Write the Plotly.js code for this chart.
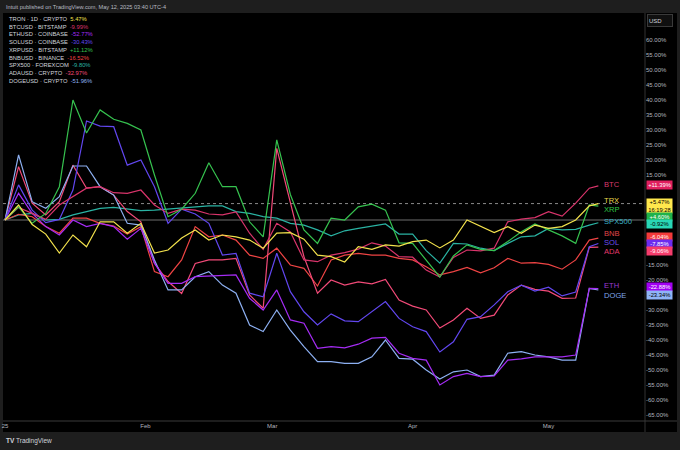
<!DOCTYPE html>
<html><head><meta charset="utf-8">
<script src="https://cdn.plot.ly/plotly-3.0.1.min.js"></script>
<style>html,body{margin:0;padding:0;background:#1e1e1e;overflow:hidden}#chart{width:680px;height:450px}</style>
</head><body><div id="chart"></div>
<script>
// ---------- DATA ----------
const dates = ['2025-01-01','2025-01-04','2025-01-07','2025-01-10','2025-01-13','2025-01-16','2025-01-19','2025-01-22','2025-01-25','2025-01-28','2025-01-31','2025-02-03','2025-02-06','2025-02-09','2025-02-12','2025-02-15','2025-02-18','2025-02-21','2025-02-24','2025-02-27','2025-03-02','2025-03-05','2025-03-08','2025-03-11','2025-03-14','2025-03-17','2025-03-20','2025-03-23','2025-03-26','2025-03-29','2025-04-01','2025-04-04','2025-04-07','2025-04-10','2025-04-13','2025-04-16','2025-04-19','2025-04-22','2025-04-25','2025-04-28','2025-05-01','2025-05-04','2025-05-07','2025-05-10','2025-05-12'];

const trx  = [0,5,-1.5,-4.7,-11,-5,-8.9,-0.6,-0.6,-4.4,-1.1,-11,-10,-6,-3.3,-6.7,-5,-5.6,-6.7,-9.4,-4.4,-4.2,-6.4,-11.7,-12.2,-14,-8.9,-9.8,-8.3,-8.7,-7.2,-6.7,-9.3,-6.7,0,-2,-4.2,-2.2,-4.4,-1.7,-2.8,-2.2,0,4.7,5.47];
const btc  = [0,4.2,2.2,0.2,5,7.8,10.6,11.1,9.1,8.9,10,5,2.2,3.6,3.3,2,1.7,2.7,-4.4,-9.8,-1.1,-4,-13.3,-13.9,-11.7,-10.9,-9.7,-7.6,-8.7,-12.2,-12.4,-16.7,-19,-12.5,-10,-10.3,-9.4,-0.6,0.3,0.8,2.8,1.3,5.6,10.6,11.39];
const eth  = [0,8.9,2.2,-2.2,-5,0,-2.2,-1.1,-2.2,-6.4,-2.8,-14.4,-21.1,-21.1,-18.9,-18.7,-18.3,-18.3,-26.1,-30,-23.3,-33.3,-34.4,-42.8,-42.2,-42.6,-41.4,-39.4,-39.1,-44.4,-46.1,-46.7,-55,-52.2,-51.1,-52.2,-52,-46.7,-46.3,-45.6,-45.6,-45.6,-45,-22.8,-22.88];
const sol  = [0,11.7,3.3,-0.9,0.2,10,33,31.3,31.1,18.3,20,11.1,-1.1,3.6,2,-1.1,-11.7,-11.1,-24.4,-25.6,-11.1,-23.9,-30.6,-35,-31.3,-33.6,-33.9,-30.6,-27.2,-32.8,-35.6,-37.2,-44,-40.6,-33.1,-32.2,-28.3,-23.9,-21.7,-23.7,-22.4,-25.3,-24,-8.9,-7.85];
const xrp  = [0,4.4,-1.1,2.2,11.1,40,29,36.7,33.6,32.2,30,15,1.1,3.6,8.9,19.1,11.1,11.1,-0.6,-5.6,26.7,8.5,-3.3,-7.8,0.6,0,4.4,5.3,3.3,-7.6,-7.8,-13.3,-19,-12,-8.3,-9.8,-10.2,-7.2,-3.9,-1.3,-3.3,-5.3,-7.8,5,4.6];
const bnb  = [0,1.9,1.1,-2.2,-4.4,0.6,0.6,-1.1,-2,-4.7,-2.2,-17.2,-18.9,-13.3,-2.2,-5.6,-5,-6.7,-11.7,-12.8,-9.4,-15,-16.1,-22,-13.3,-11.7,-11.1,-11.7,-11.7,-12.8,-13.3,-15.6,-18.3,-17.2,-15.8,-17.6,-15.9,-12.8,-14.4,-14.2,-14.8,-16.4,-13.3,-6.7,-6.04];
const spx  = [0,1.7,2.2,0,0.2,1.7,2.8,3.9,4.2,3.6,3.1,3.3,3.6,3.9,4.2,4.7,4.7,2.8,2.2,1.1,0.6,-1.1,-1.7,-3.3,-5.3,-3.6,-2.8,-2,-1.3,-4.7,-4.7,-10.2,-14.4,-7.8,-8,-9.4,-10.2,-7.8,-5.6,-5.3,-2.8,-3.3,-3.1,-1.7,-0.92];
const ada  = [0,17.8,5.6,1.7,6.1,18.3,10.6,11.1,8.3,2.8,-0.6,-14.4,-20.5,-24.5,-14.5,-13.3,-13.3,-12.8,-25,-29.4,23.9,6.1,-12.2,-24.4,-20,-21.7,-20.6,-21.3,-19.8,-26.7,-28.7,-30,-36,-33.3,-29.4,-32.8,-31.7,-25,-21.7,-23.1,-23.7,-26.1,-26,-9.1,-9.06];
const doge = [0,21.7,6.1,3.9,7.8,18,18,11.1,8.3,-1.1,-1.7,-13.3,-23.3,-23.3,-18.9,-17.2,-21.7,-24.4,-35,-37.2,-30,-36.7,-42.2,-47.2,-47.2,-47.8,-47.8,-45.6,-40,-46.1,-46.4,-50,-53,-50.6,-50,-52.2,-51.7,-44.4,-43.9,-45,-45.6,-46.7,-46.7,-22.8,-23.34];

const shortNames = ['SPX500','BNB','ADA','DOGE','ETH','SOL','BTC','XRP','TRX'];
const legendNames = ['TRON · 1D · CRYPTO','BTCUSD · BITSTAMP','ETHUSD · COINBASE','SOLUSD · COINBASE','XRPUSD · BITSTAMP','BNBUSD · BINANCE','SPX500 · FOREXCOM','ADAUSD · CRYPTO','DOGEUSD · CRYPTO'];
const legendValues = ['5.47%','-9.99%','-52.77%','-30.43%','+11.12%','-16.52%','-9.80%','-32.97%','-51.96%'];
const xTickDates = ['2025-01-01','2025-02-01','2025-03-01','2025-04-01','2025-05-01'];
const xTickLabels = ['25','Feb','Mar','Apr','May'];
// visible price-scale labels (the others are hidden under the value tags)
const yTicks = [60,55,50,45,40,35,30,25,20,15,-15,-20,-30,-35,-40,-45,-50,-55,-60,-65];
const headerText = 'Intuit published on TradingView.com, May 12, 2025 03:40 UTC-4';
const clockText = '16:19:28';

// ---------- STYLE ----------
const seriesData = {SPX500:spx,BNB:bnb,ADA:ada,DOGE:doge,ETH:eth,SOL:sol,BTC:btc,XRP:xrp,TRX:trx};
const lineColor = {TRX:'#f2e14c',BTC:'#d9346b',ETH:'#a52cf5',SOL:'#6247f0',XRP:'#36c24f',BNB:'#ef4444',SPX500:'#2ab3a3',ADA:'#f24a78',DOGE:'#8db0f2'};
const nameColor = {TRX:'#e8d84a',BTC:'#d93a6e',ETH:'#9a3ad0',SOL:'#6a4ef0',XRP:'#2ec845',BNB:'#e0464a',SPX500:'#3cb4c8',ADA:'#e0386a',DOGE:'#7fa6ea'};
const pillBg = {TRX:'#ffe84d',BTC:'#e0205f',ETH:'#a100f2',SOL:'#6c2bf0',XRP:'#20b24a',BNB:'#f43a3a',SPX500:'#29d6b6',ADA:'#f53c6c',DOGE:'#8fb4f7'};
const pillFg = {TRX:'#000',BTC:'#fff',ETH:'#fff',SOL:'#fff',XRP:'#fff',BNB:'#fff',SPX500:'#000',ADA:'#fff',DOGE:'#000'};
const legendKeys = ['TRX','BTC','ETH','SOL','XRP','BNB','SPX500','ADA','DOGE'];
const tagOrder = ['BTC','TRX','XRP','SPX500','BNB','SOL','ADA','ETH','DOGE'];
const namePy = {BTC:185,TRX:200,XRP:210,SPX500:221,BNB:233,SOL:242,ADA:252,ETH:285,DOGE:295};
const pillPy = {BTC:185,TRX:205.5,XRP:216.5,SPX500:223.8,BNB:236.5,SOL:244,ADA:251.5,ETH:287,DOGE:295};

const L=3,R=645,T=13,B=421;
const px=(x)=>(x-L)/(R-L);
const py=(y)=>(B-y)/(B-T);
const FONT='Liberation Sans, Arial, sans-serif';

const traces = shortNames.map(k=>({
  x:dates, y:seriesData[k], type:'scatter', mode:'lines', name:k,
  line:{color:lineColor[k], width:1.2}, hoverinfo:'skip'
}));

const fmt=(v)=>(v>0?'+':'')+v.toFixed(2)+'%';

const annotations = [];
annotations.push({xref:'paper',yref:'paper',x:px(4),y:py(6.5),xanchor:'left',yanchor:'middle',text:headerText,showarrow:false,font:{family:FONT,size:5.6,color:'#b8bbc2'}});
legendKeys.forEach((k,i)=>{
  annotations.push({xref:'paper',yref:'paper',x:px(7),y:py(19+7.72*i),xanchor:'left',yanchor:'middle',showarrow:false,
    text:legendNames[i]+'  <span style="color:'+lineColor[k]+'">'+legendValues[i]+'</span>',
    font:{family:FONT,size:5.8,color:'#d1d4dc'}});
});
tagOrder.forEach(k=>{
  const arr=seriesData[k]; const last=arr[arr.length-1];
  annotations.push({xref:'paper',yref:'paper',x:px(602),y:py(namePy[k]),xanchor:'left',yanchor:'middle',showarrow:false,
    text:k,font:{family:FONT,size:7.6,color:nameColor[k]}});
  const two = (k==='TRX');
  annotations.push({xref:'paper',yref:'paper',x:px(646),y:py(pillPy[k]),xanchor:'left',yanchor:'middle',showarrow:false,
    text: two ? fmt(last)+'<br>'+clockText : fmt(last),
    width:24,height:two?12.5:6.5,borderpad:0.5,bgcolor:pillBg[k],align:'center',
    font:{family:FONT,size:5.8,color:pillFg[k]}});
});
annotations.push({xref:'paper',yref:'paper',x:px(647),y:py(20),xanchor:'left',yanchor:'middle',showarrow:false,
  text:'USD',width:22,height:9,align:'left',bgcolor:'#101010',bordercolor:'#3a3a3a',borderwidth:1,borderpad:1,
  font:{family:FONT,size:6,color:'#d1d4dc'}});
annotations.push({xref:'paper',yref:'paper',x:px(4),y:py(441),xanchor:'left',yanchor:'middle',showarrow:false,
  text:'<b>TV</b> TradingView',font:{family:FONT,size:6.5,color:'#d1d4dc'}});

const shapes = [
  {type:'rect',xref:'paper',yref:'paper',x0:px(3),x1:px(677),y0:py(432),y1:py(13),fillcolor:'#000',line:{width:0},layer:'below'},
  {type:'line',xref:'paper',yref:'y',x0:0,x1:1,y0:0,y1:0,line:{color:'#6e6e6e',width:1},layer:'below'},
  {type:'line',xref:'paper',yref:'y',x0:0,x1:1,y0:trx[trx.length-1],y1:trx[trx.length-1],line:{color:'#8a8a8a',width:1,dash:'dot'},layer:'below'},
  {type:'line',xref:'paper',yref:'paper',x0:px(645),x1:px(645),y0:py(432),y1:py(13),line:{color:'#333',width:1}},
  {type:'line',xref:'paper',yref:'paper',x0:px(3),x1:px(677),y0:py(421),y1:py(421),line:{color:'#3a3a3a',width:1}}
];

const layout = {
  width:680,height:450,
  margin:{l:L,r:680-R,t:T,b:450-B,pad:0},
  paper_bgcolor:'#1e1e1e',plot_bgcolor:'#000',
  showlegend:false,
  font:{family:FONT,size:6,color:'#b2b5be'},
  xaxis:{type:'date',range:['2024-12-31 13:26','2025-05-22 07:12'],tickvals:xTickDates,ticktext:xTickLabels,
    showgrid:false,zeroline:false,showline:false,ticks:'',tickfont:{family:FONT,size:6,color:'#b2b5be'},fixedrange:true},
  yaxis:{side:'right',range:[-67,69],tickvals:yTicks,ticktext:yTicks.map(v=>v.toFixed(2)+'%'),
    showgrid:false,zeroline:false,showline:false,ticks:'',tickfont:{family:FONT,size:6,color:'#b2b5be'},fixedrange:true},
  shapes:shapes,annotations:annotations
};
Plotly.newPlot('chart',traces,layout,{staticPlot:true,displayModeBar:false});
</script></body></html>
